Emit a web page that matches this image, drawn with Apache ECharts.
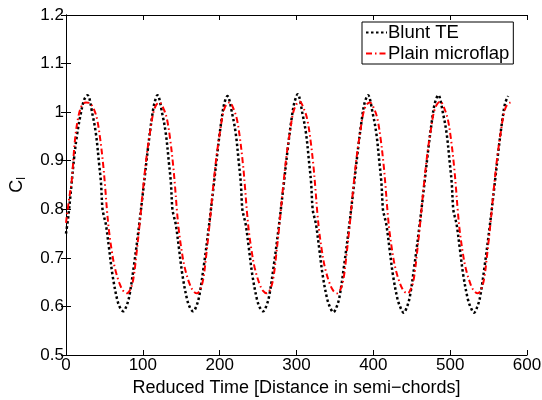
<!DOCTYPE html>
<html lang="en">
<head>
    <meta charset="UTF-8">
    <title>Cl vs reduced time</title>
    <style>
        html, body { margin: 0; padding: 0; background: #fff; }
    </style>
</head>
<body>
<div id="main" style="width: 542px;height:400px;"></div>
<script src="https://cdn.jsdelivr.net/npm/echarts@6.0.0/dist/echarts.min.js"></script>
<script type="text/javascript">
    // Blunt TE (black dotted)
    var blackTime = [
        0, 3, 6.5, 10.5, 14.5, 19, 23.5, 28, 34.5, 39, 43, 45.5, 47.5, 49.5, 52, 56, 60.5, 66.5, 70.5, 74.5,
        78.5, 82.5, 88.5, 95, 101.5, 107, 111.5, 115, 119, 125.5, 130, 134, 136.5, 138.5, 140.5, 143, 147, 151.5, 157.5, 161.5, 165.5,
        169.5, 173.5, 179.5, 186, 192.5, 198, 202.5, 206, 210, 216.5, 221, 225, 227.5, 229.5, 231.5, 234, 238, 242.5, 248.5, 252.5, 256.5,
        260.5, 264.5, 270.5, 277, 283.5, 289, 293.5, 297, 301.5, 308, 312.5, 316.5, 319, 321, 323, 325.5, 329.5, 334, 340, 344, 348,
        352, 356, 362, 368.5, 375, 380.5, 385, 388.5, 393, 399.5, 404, 408, 410.5, 412.5, 414.5, 417, 421, 425.5, 431.5, 435.5, 439.5,
        443.5, 447.5, 453.5, 460, 466.5, 472, 476.5, 480, 484.5, 491, 495.5, 499.5, 502, 504, 506, 508.5, 512.5, 517, 523, 527, 531,
        535, 539, 545, 551.5, 558, 563.5, 568, 571.5, 575.5
    ];
    var blackCl = [
        0.75, 0.785, 0.84, 0.905, 0.955, 0.995, 1.025, 1.035, 0.995, 0.955, 0.895, 0.855, 0.80, 0.785, 0.768, 0.72, 0.665, 0.615, 0.597, 0.59,
        0.6, 0.622, 0.685, 0.765, 0.853, 0.93, 0.985, 1.018, 1.035, 0.995, 0.955, 0.895, 0.855, 0.8, 0.785, 0.768, 0.72, 0.665, 0.615, 0.597, 0.59,
        0.6, 0.622, 0.685, 0.765, 0.853, 0.93, 0.985, 1.018, 1.033, 0.995, 0.955, 0.895, 0.855, 0.8, 0.785, 0.768, 0.72, 0.665, 0.615, 0.597, 0.59,
        0.6, 0.622, 0.685, 0.765, 0.853, 0.93, 0.985, 1.018, 1.037, 0.995, 0.955, 0.895, 0.855, 0.8, 0.785, 0.768, 0.72, 0.665, 0.615, 0.597, 0.588,
        0.598, 0.62, 0.685, 0.765, 0.853, 0.93, 0.985, 1.018, 1.035, 0.995, 0.955, 0.895, 0.855, 0.8, 0.785, 0.768, 0.72, 0.665, 0.615, 0.597, 0.587,
        0.598, 0.62, 0.685, 0.765, 0.853, 0.93, 0.985, 1.018, 1.035, 0.995, 0.955, 0.895, 0.855, 0.8, 0.785, 0.768, 0.72, 0.665, 0.615, 0.597, 0.587,
        0.598, 0.62, 0.685, 0.765, 0.853, 0.93, 0.985, 1.018, 1.033
    ];

    // Plain microflap (red dash-dot)
    var redTime = [
        0, 3.5, 7.5, 11.5, 16, 21, 26, 31.5, 36.5, 40.5, 44.5, 48.5, 51, 53.5, 56, 59.5, 63.5, 69.5, 74.5,
        79.5, 84.5, 88, 91.5, 96, 100.5, 105, 109.5, 113.5, 117.5, 121.5,
        127.5, 131.5, 135.5, 139.5, 142, 144.5, 147, 150.5, 154.5, 160.5, 165.5,
        170.5, 175.5, 179, 182.5, 187, 191.5, 196, 200.5, 204.5, 208.5, 213,
        218.5, 222.5, 226.5, 230.5, 233, 235.5, 238, 241.5, 245.5, 251.5, 256.5,
        261.5, 266.5, 270, 273.5, 278, 282.5, 287, 291.5, 295.5, 299.5, 304,
        310, 314, 318, 322, 324.5, 327, 329.5, 333, 337, 343, 348,
        353, 358, 361.5, 365, 369.5, 374, 378.5, 383, 387, 391, 395.5,
        401.5, 405.5, 409.5, 413.5, 416, 418.5, 421, 424.5, 428.5, 434.5, 439.5,
        444.5, 449.5, 453, 456.5, 461, 465.5, 470, 474.5, 478.5, 482.5, 487,
        493, 497, 501, 505, 507.5, 510, 512.5, 516, 520, 526, 531,
        536, 541, 544.5, 548, 552.5, 557, 561.5, 566, 570, 574, 578.5
    ];
    var redCl = [
        0.772, 0.815, 0.86, 0.94, 0.99, 1.015, 1.02, 1.018, 1.005, 0.985, 0.945, 0.89, 0.845, 0.795, 0.755, 0.715, 0.68, 0.648, 0.632,
        0.627, 0.638, 0.66, 0.705, 0.772, 0.845, 0.91, 0.96, 0.998, 1.015, 1.02,
        1.005, 0.985, 0.945, 0.89, 0.845, 0.795, 0.755, 0.715, 0.68, 0.648, 0.632,
        0.627, 0.638, 0.66, 0.705, 0.772, 0.845, 0.91, 0.96, 0.998, 1.015, 1.02,
        1.005, 0.985, 0.945, 0.89, 0.845, 0.795, 0.755, 0.715, 0.68, 0.648, 0.632,
        0.627, 0.638, 0.66, 0.705, 0.772, 0.845, 0.91, 0.96, 0.998, 1.015, 1.022,
        1.005, 0.985, 0.945, 0.89, 0.845, 0.795, 0.755, 0.715, 0.68, 0.648, 0.632,
        0.627, 0.638, 0.66, 0.705, 0.772, 0.845, 0.91, 0.96, 0.998, 1.015, 1.02,
        1.005, 0.985, 0.945, 0.89, 0.845, 0.795, 0.755, 0.715, 0.68, 0.648, 0.632,
        0.627, 0.638, 0.66, 0.705, 0.772, 0.845, 0.91, 0.96, 0.998, 1.015, 1.022,
        1.005, 0.985, 0.945, 0.89, 0.845, 0.795, 0.755, 0.715, 0.68, 0.648, 0.632,
        0.627, 0.638, 0.66, 0.705, 0.772, 0.845, 0.91, 0.96, 0.998, 1.015, 1.02
    ];

    var seriesNames = ["Blunt TE", "Plain microflap"];
    var xTicks = [0, 100, 200, 300, 400, 500, 600];
    var yTicks = [0.5, 0.6, 0.7, 0.8, 0.9, 1, 1.1, 1.2];

    function zip(xs, ys) {
        var out = [];
        for (var i = 0; i < xs.length; i++) {
            out.push([xs[i], ys[i]]);
        }
        return out;
    }

    var font = "Liberation Sans";
    var myChart = echarts.init(document.getElementById("main"));

    var frameAxis = {
        axisLine: {show: true, lineStyle: {color: "#000", width: 1}},
        axisTick: {show: true, inside: true, length: 5, lineStyle: {color: "#000"}},
        splitLine: {show: false}
    };

    var option = {
        animation: false,
        backgroundColor: "#fff",
        textStyle: {fontFamily: font},
        grid: {left: 66, right: 15, top: 15, bottom: 45, containLabel: false, outerBoundsMode: "none"},
        legend: {
            orient: "vertical",
            left: 362,
            top: 22,
            padding: [1, 4, 1, 3],
            itemGap: 2,
            itemWidth: 21,
            itemHeight: 14,
            backgroundColor: "#fff",
            borderColor: "#000",
            borderWidth: 1,
            borderRadius: 0,
            itemStyle: {opacity: 0},
            textStyle: {fontFamily: font, fontSize: 18.5, color: "#000", padding: [0, 0, 0, -4]},
            data: seriesNames
        },
        xAxis: [
            Object.assign({
                type: "value", position: "bottom",
                min: xTicks[0], max: xTicks[xTicks.length - 1], interval: 100,
                name: "Reduced Time [Distance in semi\u2212chords]",
                nameLocation: "middle", nameGap: 17,
                nameTextStyle: {fontFamily: font, fontSize: 18, color: "#000"},
                axisLabel: {fontFamily: font, fontSize: 17, color: "#000", margin: 2}
            }, frameAxis),
            Object.assign({
                type: "value", position: "top",
                min: xTicks[0], max: xTicks[xTicks.length - 1], interval: 100,
                axisLabel: {show: false}
            }, frameAxis)
        ],
        yAxis: [
            Object.assign({
                type: "value", position: "left",
                min: yTicks[0], max: yTicks[yTicks.length - 1], interval: 0.1,
                name: "{c|C}{s|l}",
                nameLocation: "middle",
                nameRotate: 90,
                nameGap: 38,
                nameTextStyle: {
                    color: "#000",
                    rich: {
                        c: {fontFamily: font, fontSize: 18, lineHeight: 20, verticalAlign: "top", color: "#000"},
                        s: {fontFamily: font, fontSize: 12, lineHeight: 12, padding: [16, 0, 0, 0], verticalAlign: "bottom", color: "#000"}
                    }
                },
                axisLabel: {
                    fontFamily: font, fontSize: 17, color: "#000", margin: 2,
                    formatter: function (v) { return String(parseFloat(v.toFixed(1))); }
                }
            }, frameAxis),
            Object.assign({
                type: "value", position: "right",
                min: yTicks[0], max: yTicks[yTicks.length - 1], interval: 0.1,
                axisLabel: {show: false}
            }, frameAxis)
        ],
        series: [
            {
                name: seriesNames[0],
                type: "line",
                data: zip(blackTime, blackCl),
                symbol: "none",
                smooth: 0.35,
                color: "#000",
                lineStyle: {color: "#000", width: 2.5, type: [2.5, 2.5]}
            },
            {
                name: seriesNames[1],
                type: "line",
                data: zip(redTime, redCl),
                symbol: "none",
                smooth: 0.35,
                color: "#ff0000",
                lineStyle: {color: "#ff0000", width: 2, type: [6, 3, 1.5, 3]}
            }
        ]
    };

    myChart.setOption(option);
</script>
</body>
</html>
